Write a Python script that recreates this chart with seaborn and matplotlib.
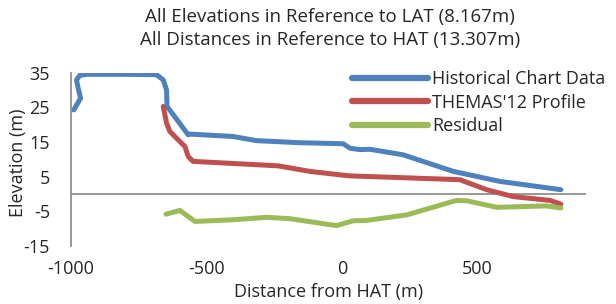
import numpy as np
import pandas as pd
import matplotlib
matplotlib.use("Agg")
import matplotlib.pyplot as plt
import matplotlib.ticker as mticker
import seaborn as sns

# Values
hist_x = [-989, -964, -973, -979, -967, -940, -800, -684, -659, -647, -645, -567, -561, -401, -315, -155, 5, 30, 66, 103, 226, 411, 583, 808]
hist_y = [24.3, 27.7, 30.6, 33.0, 34.3, 34.6, 34.6, 34.5, 33.0, 30.1, 25.3, 17.1, 17.3, 16.6, 15.4, 14.8, 14.5, 13.2, 12.8, 12.9, 11.3, 6.5, 3.6, 1.2]

themas_x = [-659, -647, -635, -610, -579, -567, -549, -235, -118, -7, 30, 435, 534, 632, 768, 808]
themas_y = [25.3, 20.5, 18.1, 16.1, 13.7, 10.8, 9.4, 8.1, 6.5, 5.5, 5.2, 4.1, 1.2, -0.8, -1.9, -3.0]

resid_x = [-649, -598, -542, -401, -278, -192, -20, 42, 91, 239, 423, 460, 571, 755, 808]
resid_y = [-5.9, -4.8, -8.0, -7.5, -6.8, -7.2, -9.2, -7.8, -7.7, -6.1, -1.9, -2.0, -3.9, -3.5, -4.1]

series_names = ["Historical Chart Data", "THEMAS'12 Profile", "Residual"]
colors = ["#4F81BD", "#C0504D", "#9BBB59"]

x_ticks = [-1000, -500, 0, 500]
y_ticks = [-15, -5, 5, 15, 25, 35]

sns.set_style("white")
plt.rcParams['font.family'] = ['Open Sans', 'DejaVu Sans']
plt.rcParams['axes.unicode_minus'] = False

fig = plt.figure(figsize=(6.16, 3.04), dpi=100)
ax = fig.add_axes([0.115, 0.192, 0.836, 0.568])

for xs, ys, name, c in zip([hist_x, themas_x, resid_x], [hist_y, themas_y, resid_y], series_names, colors):
    sns.lineplot(x=xs, y=ys, sort=False, estimator=None, color=c, linewidth=3.6,
                 label=name, ax=ax, solid_capstyle="round", solid_joinstyle="round")

ax.axhline(0, color="#868686", linewidth=1.2, zorder=0)
ax.set_xlim(-1000, 900)
ax.set_ylim(-15, 35)
ax.set_xticks(x_ticks)
ax.set_yticks(y_ticks)
ax.xaxis.set_major_formatter(mticker.FormatStrFormatter("%d"))
ax.yaxis.set_major_formatter(mticker.FormatStrFormatter("%d"))
for side in ["top", "right", "bottom"]:
    ax.spines[side].set_visible(False)
ax.spines["left"].set_color("#868686")
ax.spines["left"].set_linewidth(1.2)
ax.tick_params(axis="x", length=0, pad=10, labelsize=13)
ax.tick_params(axis="y", length=0, pad=15, labelsize=13)
ax.set_xlabel("Distance from HAT (m)", fontsize=13, labelpad=4)
ax.set_ylabel("Elevation (m)", fontsize=13)
ax.yaxis.set_label_coords(-0.085, 0.48)

fig.suptitle("All Elevations in Reference to LAT (8.167m)\nAll Distances in Reference to HAT (13.307m)",
             x=0.536, y=0.975, fontsize=13.5, linespacing=1.4)

leg = ax.legend(loc="upper right", bbox_to_anchor=(1.0, 0.805), bbox_transform=fig.transFigure,
                frameon=False, fontsize=13, handlelength=4.2, handletextpad=0.2, labelspacing=0.3,
                borderaxespad=0.2)
for line in leg.get_lines():
    line.set_linewidth(4.5)

fig.savefig("out.png", dpi=100)
